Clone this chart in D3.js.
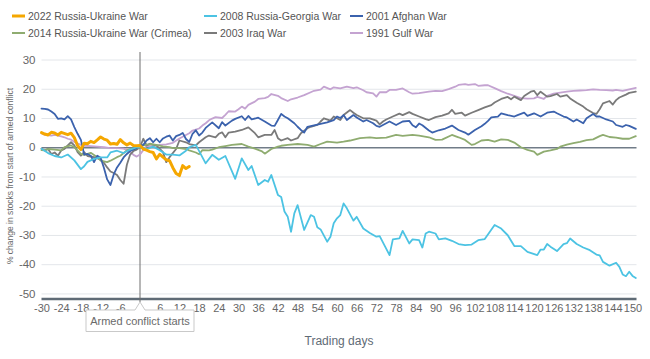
<!DOCTYPE html>
<html><head><meta charset="utf-8">
<script src="https://cdn.jsdelivr.net/npm/d3@7"></script>
<style>body{margin:0;background:#fff;font-family:"Liberation Sans",Arial,sans-serif;}</style>
</head><body><svg id="c" width="650" height="359"></svg>
<script>
const seriesNames = ["2022 Russia-Ukraine War","2008 Russia-Georgia War","2001 Afghan War","2014 Russia-Ukraine War (Crimea)","2003 Iraq War","1991 Gulf War"];
const seriesColors = ["#f5a700","#4cc3e3","#3b62ad","#8fac70","#7a7a7a","#c4a3d1"];
const xTicks = d3.range(-30, 151, 6).filter(d => d !== 0);
const yTicks = [-50,-40,-30,-20,-10,0,10,20,30];

const ukraine2022 = [[-30,5],[-29,4.5],[-28,4.2],[-27,5.1],[-26,4.9],[-25,4.2],[-24,5.1],[-22,4.3],[-21,4.8],[-20,3.3],[-19,0.5],[-18,-0.8],[-17,1.4],[-16,1.2],[-15,2],[-14,1.6],[-13,2.5],[-12,3.5],[-11,2.8],[-10,2.4],[-9,1.1],[-8,1.3],[-7,1],[-6,2.6],[-5,1.5],[-4,0.8],[-3,1.4],[-2,0.6],[-1,0.5],[0,0.6],[1,-0.6],[2,-1],[3,-1.5],[4,-1.8],[5,-4],[6,-2.4],[7,-3.4],[8,-4.3],[9,-4.6],[10,-7],[11,-9],[12,-9.7],[13,-6.3],[14,-7.3],[15,-6.6]];

const georgia2008 = [[-30,-0.5],[-28,-2],[-26,-3],[-24,-3.5],[-22,-2.5],[-20,-4.5],[-18,-7.5],[-17,-6.5],[-16,-5],[-14,-4],[-12,-3.5],[-10,-3.5],[-9,-1.8],[-7,-1.2],[-5,-2],[-3,-0.8],[-1,0],[0,0],[2,-0.6],[4,0.2],[6,-1],[8,-2.5],[10,-2.5],[12,-2.8],[14,-1.2],[15,0],[17,0.8],[20,-5.5],[22,-2.6],[24,-4.3],[26,-3],[29,-10.8],[31,-3.8],[33,-7.8],[34,-6.4],[36,-12.9],[38,-11.2],[39,-11.8],[40,-9.5],[42,-16.3],[43,-17],[44,-22],[45,-23.8],[46,-28.9],[47,-22.6],[48,-19.8],[50,-28.3],[52,-23.2],[53,-23.8],[54,-27.4],[55,-28.1],[57,-32.3],[58,-30.6],[59,-26],[60,-24.3],[61,-23.2],[62,-19.2],[63,-20.9],[65,-25.1],[66,-23.8],[68,-27.8],[70,-29.3],[72,-30.6],[73,-30.4],[76,-36.9],[77,-31.5],[79,-31.2],[80,-28.6],[82,-32.9],[83,-31.5],[85,-31.8],[86,-34.3],[87,-29.5],[88,-28.9],[90,-29.5],[91,-31.5],[93,-31.2],[95,-32],[97,-33.1],[99,-33.5],[101,-33.3],[103,-31.8],[105,-31.4],[108,-26.6],[110,-27.8],[112,-30.1],[114,-33.8],[116,-33.8],[118,-35.8],[121,-36.9],[122,-35],[123,-35],[124,-33.1],[125,-34],[127,-35.5],[129,-33.1],[130,-32.8],[131,-31.2],[133,-33.1],[135,-34.3],[137,-35.2],[139,-36.7],[140,-37],[141,-39.2],[143,-40.5],[145,-39.5],[146,-40.9],[147,-43.5],[148,-44.1],[149,-42.6],[150,-44],[151,-44.7]];

const afghan2001 = [[-30,13.2],[-29,13.1],[-28,12.9],[-27,12.2],[-26,11.4],[-25,9.7],[-24,9.9],[-23,9.5],[-22,10.6],[-21,9.5],[-20,6.9],[-19,4.6],[-18,2.5],[-17,-2.5],[-16,-2.3],[-15,-2.9],[-14,-5.1],[-13,-2.9],[-12,-3.6],[-11,-7],[-10,-11],[-9,-12.9],[-8,-9.3],[-7,-6.9],[-6,-5.3],[-5,-3.5],[-4,-2.3],[-3,-1.3],[-1,-0.3],[0,0.6],[1,0.8],[2,2.3],[3,3.1],[4,1.7],[5,2.9],[6,1.7],[7,3],[8,3.6],[9,4],[10,2.3],[11,3.8],[12,4.2],[13,4.9],[14,2.8],[15,1.8],[16,4.6],[17,5.8],[18,4],[19,5],[20,6.6],[22,8.5],[24,6.5],[25,8.6],[26,7.4],[28,9.1],[29,9.7],[31,10.6],[32,9.3],[33,10.7],[34,9.5],[36,10.1],[38,8.8],[40,7.4],[41,7.3],[42,9.3],[43,11.4],[44,10.5],[45,9.9],[47,8.2],[48,7],[49,5.9],[50,5],[51,7],[53,7.5],[55,8],[57,8.5],[59,9.3],[60,10.5],[61,10],[62,11],[63,9.3],[65,11],[66,10.2],[68,8.8],[69,9.3],[71,8.2],[72,7.3],[73,7],[75,8.2],[76,8.8],[78,7.6],[80,8.8],[82,9],[83,7.5],[84,6.8],[85,8.1],[86,7.5],[88,5.7],[89,5],[91,5.8],[93,6.4],[95,7.4],[97,5.9],[99,5],[100,4.3],[102,5.9],[104,7.2],[105,8],[106,9],[107,10.2],[109,10.5],[110,11.6],[112,11],[114,10.5],[115,11],[117,11.8],[118,10.7],[120,11.6],[122,10.5],[124,11.8],[126,12.2],[127,11.6],[129,10.5],[130,10.2],[132,8.8],[133,9.5],[135,8.2],[136,9.9],[138,11.4],[139,10.5],[140,10.5],[142,9.5],[144,8.8],[145,7.6],[147,7],[148,7.6],[149,7.3],[151,6.3]];

const crimea2014 = [[-30,-1],[-29,-1.1],[-28,-0.6],[-26,-0.8],[-24,-1.1],[-23,0],[-21,0.6],[-20,0],[-18,-2.3],[-17,-2.6],[-15,-1.9],[-13,-3.4],[-12,-4.6],[-10,-5.1],[-9,-4.6],[-7,-3.4],[-6,-2.9],[-4,-1.1],[-3,-0.6],[-1,-0.3],[0,0],[1,0.6],[3,1.1],[5,0.8],[7,0.3],[9,0],[10,-0.3],[12,-0.3],[14,-0.6],[15,-1.1],[17,-1.8],[18,-2.4],[19,-1],[21,-1.1],[22,-0.8],[24,0],[26,0.4],[28,0.8],[31,1.1],[33,0.2],[35,-0.5],[37,-1.3],[38,-2.2],[40,-0.6],[42,0.2],[43,0.5],[45,0.8],[48,1.1],[51,0.8],[53,0.2],[55,1.1],[57,1.9],[60,1.6],[62,1.9],[64,2.3],[67,3.1],[70,3.4],[72,3.1],[75,3.3],[78,4.2],[80,3.9],[83,4.2],[85,4],[88,3.4],[90,2.5],[92,2.6],[95,4.2],[97,3.4],[99,2.5],[101,0.8],[102,1.1],[104,2.3],[106,2.5],[108,1.9],[110,2.7],[112,2.5],[114,1.6],[116,0],[118,-0.9],[120,-1.5],[121,-2.6],[123,-1.5],[125,-1.1],[127,-0.6],[128,0.2],[130,0.9],[132,1.4],[134,1.8],[136,2.4],[138,2.7],[140,3.8],[141,4.2],[143,3.5],[145,3.3],[147,2.9],[149,2.9],[151,3.8]];

const iraq2003 = [[-30,-0.5],[-29,-1.1],[-28,-0.6],[-27,-2.3],[-26,-1.8],[-25,-2.9],[-24,-1.1],[-23,-0.6],[-22,0.6],[-21,1.7],[-20,0.6],[-19,-1.7],[-18,-2.9],[-17,-1.7],[-16,-3],[-14,-3.4],[-13,-3.8],[-12,-4.2],[-11,-5.3],[-10,-6.9],[-9,-8.3],[-8,-8.8],[-7,-9.5],[-6,-11.2],[-5,-12.5],[-4,-6],[-3,-2.5],[-2,-1.3],[-1,-0.8],[0,0],[1,2.9],[2,0.6],[3,1.2],[4,0.8],[5,0.6],[7,-1.7],[8,-5.1],[9,-3.4],[11,-0.6],[12,2.3],[14,1.7],[15,1.1],[17,0.6],[18,1.7],[20,3.4],[21,4],[23,3.4],[24,4.6],[25,5.1],[26,3.4],[27,5],[29,5.3],[31,5.9],[33,6.8],[35,4.8],[36,3.4],[38,4.2],[40,4.2],[41,5.9],[42,3.1],[43,2.3],[45,3.1],[46,2.3],[48,3.1],[49,4.8],[51,6.5],[52,7],[54,7.6],[55,8.8],[56,9.9],[58,9.1],[59,10.5],[61,9.3],[62,11],[64,12.7],[65,11.8],[66,11],[68,9.9],[70,9.9],[72,9.1],[73,7.8],[74,8.8],[75,9.5],[77,10.5],[79,11.5],[80,11],[82,12],[83,11.4],[85,10.5],[87,9.6],[88,9.3],[90,10.3],[92,10.8],[94,11.6],[95,12.8],[96,11.4],[98,11.8],[99,10.8],[101,11.8],[103,12.7],[105,13.6],[107,14.4],[108,15.3],[110,16.5],[112,17.2],[113,16.4],[114,17.3],[116,16.1],[117,17.5],[119,19],[120,19.3],[121,17.8],[122,19],[124,17.3],[125,17.5],[127,18.2],[128,17.3],[130,17.8],[131,16.7],[133,15.2],[135,13.9],[136,13],[138,11.7],[139,11.4],[140,13],[141,15],[143,15.8],[144,14.6],[145,16.1],[146,17],[148,18],[149,18.6],[151,19]];

const gulf1991 = [[-30,4.8],[-29,4.2],[-27,4],[-26,4.2],[-24,3.7],[-23,3.4],[-22,2.9],[-21,2.6],[-20,1.8],[-18,0.8],[-17,0.5],[-15,0.4],[-13,0.2],[-11,0],[-9,-0.3],[-7,-0.3],[-5,-0.5],[-3,-1.5],[-2,-2.6],[-1,-3.2],[0,-2.5],[1,-1],[2,0.5],[4,0.3],[6,0.8],[8,1],[10,1.5],[12,3],[13,3.6],[15,4.8],[16,5.7],[18,6.4],[19,7.4],[20,8.2],[21,9.2],[22,9.8],[23,10.3],[25,10],[26,11.1],[27,12.3],[29,12.2],[30,13],[31,13.9],[32,13.2],[33,14.5],[35,15.6],[36,16.5],[38,16.8],[39,17.2],[40,18.2],[42,17.6],[43,16.8],[45,15.8],[46,16.4],[48,17],[50,17.8],[52,18.8],[53,19.3],[55,19.7],[56,20.7],[58,19.8],[59,20.5],[61,20.1],[63,20.7],[65,20.2],[66,20.5],[68,19.5],[69,18.8],[71,18.4],[72,17.3],[73,18.8],[75,18.8],[76,19.6],[78,19.6],[80,20.1],[82,18.8],[83,18.3],[85,18.5],[88,19],[90,19.3],[92,19.2],[94,19.9],[96,20.7],[97,21.3],[99,21.6],[100,21.3],[102,21.6],[103,21],[105,21.2],[106,21.2],[108,20.2],[110,19.2],[112,18.3],[114,17.6],[116,16.8],[118,16.6],[120,16.7],[121,17.2],[123,16.5],[124,17.6],[126,18.3],[128,18.7],[130,19],[132,19.3],[134,19.4],[136,19.5],[138,19.8],[140,19.6],[142,19.5],[144,19.4],[145,19.6],[147,19.3],[149,19.8],[151,20.3]];

const seriesData = [ukraine2022, georgia2008, afghan2001, crimea2014, iraq2003, gulf1991];
const drawOrder = [5, 4, 3, 2, 1, 0];

const svg = d3.select("#c");
const x = d3.scaleLinear().domain([-30, 151]).range([41.5, 635.8]);
const y = d3.scaleLinear().domain([-51.9, 30]).range([299, 59.5]);
const left = 41.5, right = 636.5;
const fmt = d => String(d);

// gridlines
const yAxis = d3.axisLeft(y).tickValues(yTicks).tickSize(-(right-left)).tickPadding(6).tickFormat(fmt);
const gy = svg.append("g").attr("transform", `translate(${left},0)`).call(yAxis);
gy.select(".domain").remove();
gy.selectAll(".tick line").attr("stroke", d => d === 0 ? "#717c88" : "#e3e6ea").attr("stroke-width", d => d === 0 ? 1.4 : 1);
gy.selectAll(".tick text").attr("fill", "#666").style("font-size", "11.5px").style("font-family", "Liberation Sans, Arial, sans-serif");

// x axis
const xAxis = d3.axisBottom(x).tickValues(xTicks).tickSize(0).tickPadding(5).tickFormat(fmt);
const gx = svg.append("g").attr("transform", `translate(0,299)`).call(xAxis);
gx.select(".domain").remove();
gx.selectAll(".tick text").attr("fill", "#666").style("font-size", "11px").style("font-family", "Liberation Sans, Arial, sans-serif");
svg.append("line").attr("x1", left).attr("x2", right).attr("y1", 299).attr("y2", 299).attr("stroke", "#5f6b76").attr("stroke-width", 2.5);

// conflict line
svg.append("line").attr("x1", x(0)).attr("x2", x(0)).attr("y1", 52).attr("y2", 302).attr("stroke", "#6e6e6e").attr("stroke-width", 1);

// series
const line = d3.line().x(d => x(d[0])).y(d => y(d[1]));
drawOrder.forEach(i => {
  svg.append("path").datum(seriesData[i]).attr("d", line).attr("fill", "none")
    .attr("stroke", seriesColors[i]).attr("stroke-width", i === 0 ? 3 : 1.8)
    .attr("stroke-linejoin", "round").attr("stroke-linecap", "round");
});

// callout
const cx0 = x(0);
const callout = svg.append("g");
callout.append("path")
  .attr("d", `M86,310 L${cx0-5},310 L${cx0},302 L${cx0+5},310 L194,310 L194,331.5 L86,331.5 Z`)
  .attr("fill", "#fff").attr("stroke", "#c9c9c9").attr("stroke-width", 1);
callout.append("text").attr("x", cx0).attr("y", 325).attr("text-anchor", "middle")
  .attr("fill", "#6a6a6a").style("font-size", "11px").text("Armed conflict starts");

// axis titles
svg.append("text").attr("x", 339).attr("y", 345).attr("text-anchor", "middle").attr("fill", "#5f6b76")
  .style("font-size", "12px").text("Trading days");
svg.append("text").attr("transform", "translate(13,176) rotate(-90)").attr("text-anchor", "middle")
  .attr("fill", "#6a6a6a").style("font-size", "8.5px").text("% change in stocks from start of armed conflict");

// legend
const legPos = [[12,16],[204,16],[350,16],[12,33],[204,33],[350,33]];
seriesNames.forEach((n, i) => {
  const g = svg.append("g").attr("transform", `translate(${legPos[i][0]},${legPos[i][1]})`);
  g.append("line").attr("x1", 0).attr("x2", 13).attr("y1", 0).attr("y2", 0)
    .attr("stroke", seriesColors[i]).attr("stroke-width", i === 0 ? 3 : 2);
  g.append("text").attr("x", 16).attr("y", 4).attr("fill", "#555").style("font-size", "10.5px").text(n);
});
</script></body></html>
